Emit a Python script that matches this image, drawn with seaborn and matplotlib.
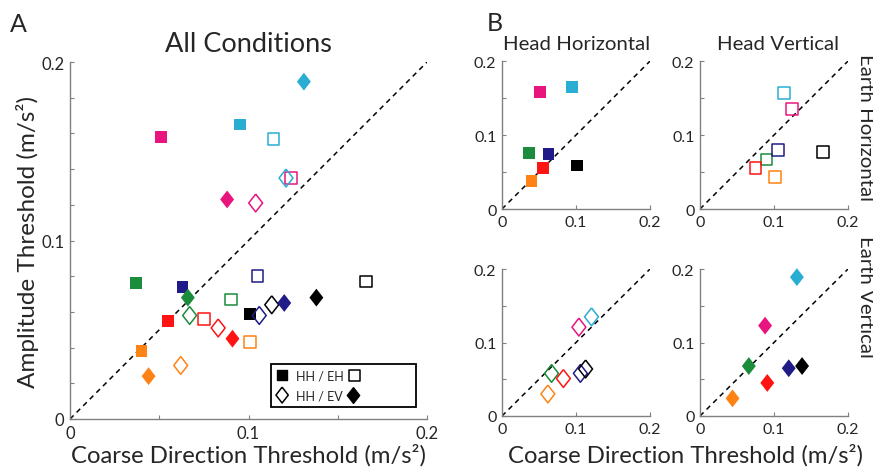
import numpy as np
import pandas as pd
import matplotlib
matplotlib.use("Agg")
import matplotlib.pyplot as plt
import seaborn as sns

# subjects and their colours
subjects = ["S1", "S2", "S3", "S4", "S5", "S6", "S7"]
subject_colors = ["#E8157F", "#29ADD3", "#1A8C3C", "#201B86", "#FF1414", "#FF8214", "#000000"]

# head horizontal / earth horizontal (filled squares)
hh_eh_x = [0.051, 0.095, 0.037, 0.063, 0.055, 0.040, 0.101]
hh_eh_y = [0.158, 0.165, 0.076, 0.074, 0.055, 0.038, 0.059]
# head vertical / earth horizontal (open squares)
hv_eh_x = [0.124, 0.114, 0.090, 0.105, 0.075, 0.101, 0.166]
hv_eh_y = [0.135, 0.157, 0.067, 0.080, 0.056, 0.043, 0.077]
# head horizontal / earth vertical (open diamonds)
hh_ev_x = [0.104, 0.121, 0.067, 0.106, 0.083, 0.062, 0.113]
hh_ev_y = [0.121, 0.135, 0.058, 0.058, 0.051, 0.030, 0.064]
# head vertical / earth vertical (filled diamonds)
hv_ev_x = [0.088, 0.131, 0.066, 0.120, 0.091, 0.044, 0.138]
hv_ev_y = [0.123, 0.189, 0.068, 0.065, 0.045, 0.024, 0.068]

tick_labels = ["0", "0.1", "0.2"]
lims = [0, 0.2]

frames = []
for cond, xs, ys in [("HH/EH", hh_eh_x, hh_eh_y), ("HV/EH", hv_eh_x, hv_eh_y),
                     ("HH/EV", hh_ev_x, hh_ev_y), ("HV/EV", hv_ev_x, hv_ev_y)]:
    frames.append(pd.DataFrame({"subject": subjects, "coarse": xs, "amp": ys, "cond": cond}))
data = pd.concat(frames, ignore_index=True)
pal = dict(zip(subjects, subject_colors))

sns.set_style("ticks")
plt.rcParams["font.family"] = ["Lato", "DejaVu Sans"]

diamond = [(0, 1), (0.78, 0), (0, -1), (-0.78, 0), (0, 1)]
style = {"HH/EH": ("s", True), "HV/EH": ("s", False),
         "HH/EV": (diamond, False), "HV/EV": (diamond, True)}
sizes = {"s": 72, "d": 165}
GRAY = "#808080"


def draw(ax, cond):
    marker, filled = style[cond]
    size = sizes["s"] if isinstance(marker, str) else sizes["d"]
    sub = data[data.cond == cond]
    sns.scatterplot(data=sub, x="coarse", y="amp", hue="subject", palette=pal,
                    marker=marker, s=size, linewidth=0 if filled else 1.1,
                    edgecolor="none", legend=False, ax=ax, clip_on=False, zorder=3)
    pts = ax.collections[-1]
    if not filled:
        pts.set_edgecolors(pts.get_facecolors())
        pts.set_facecolors("none")


def label_for(t):
    # only 0, 0.1, 0.2 get a label
    k = t * 10
    return tick_labels[int(round(k))] if abs(k - round(k)) < 1e-6 else ""


def style_ax(ax, xticks, yticks, fs):
    ax.plot(lims, lims, color="k", ls=(0, (3.3, 2.8)), lw=1.1, zorder=1)
    ax.set_xlim(lims)
    ax.set_ylim(lims)
    ax.set_xticks(xticks)
    ax.set_yticks(yticks)
    ax.set_xticklabels([label_for(t) for t in xticks])
    ax.set_yticklabels([label_for(t) for t in yticks])
    ax.tick_params(direction="in", length=3, width=0.8, color=GRAY, labelsize=fs, pad=4)
    for s in ["top", "right"]:
        ax.spines[s].set_visible(False)
    for s in ["left", "bottom"]:
        ax.spines[s].set_color(GRAY)
        ax.spines[s].set_linewidth(1.0)
    ax.set_xlabel("")
    ax.set_ylabel("")


fig = plt.figure(figsize=(8.73, 4.77), dpi=100)

# panel A
axA = fig.add_axes([0.0802, 0.1195, 0.409, 0.7484])
for cond in ["HH/EH", "HV/EH", "HH/EV", "HV/EV"]:
    draw(axA, cond)
style_ax(axA, np.arange(0, 0.2001, 0.05), np.arange(0, 0.2001, 0.02), 12)

# legend box
leg = plt.Rectangle((0.563, 0.034), 0.406, 0.12, transform=axA.transAxes,
                    fill=False, ec="k", lw=1.3, zorder=4)
axA.add_patch(leg)
axA.scatter([0.593], [0.122], marker="s", s=60, c="k", transform=axA.transAxes, zorder=5)
axA.scatter([0.796], [0.122], marker="s", s=60, facecolors="none", edgecolors="k", lw=1.1, transform=axA.transAxes, zorder=5)
axA.scatter([0.594], [0.067], marker=diamond, s=130, facecolors="none", edgecolors="k", lw=1.1, transform=axA.transAxes, zorder=5)
axA.scatter([0.792], [0.067], marker=diamond, s=130, c="k", transform=axA.transAxes, zorder=5)
axA.text(0.632, 0.122, "HH / EH", transform=axA.transAxes, fontsize=9, va="center", zorder=5)
axA.text(0.632, 0.067, "HH / EV", transform=axA.transAxes, fontsize=9, va="center", zorder=5)

# panel B
b_pos = {"HH/EH": [0.575, 0.5597, 0.1695, 0.310],
         "HV/EH": [0.8018, 0.5597, 0.1695, 0.310],
         "HH/EV": [0.575, 0.1258, 0.1695, 0.308],
         "HV/EV": [0.8018, 0.1258, 0.1695, 0.308]}
for cond, pos in b_pos.items():
    ax = fig.add_axes(pos)
    draw(ax, cond)
    style_ax(ax, [0, 0.1, 0.2], np.arange(0, 0.2001, 0.05), 11.5)

# text
fig.text(0.0115, 0.933, "A", fontsize=18, va="baseline")
fig.text(0.557, 0.935, "B", fontsize=18, va="baseline")
fig.text(0.285, 0.891, "All Conditions", fontsize=19.5, ha="center", va="baseline")
fig.text(0.66, 0.895, "Head Horizontal", fontsize=14.7, ha="center", va="baseline")
fig.text(0.891, 0.895, "Head Vertical", fontsize=14.7, ha="center", va="baseline")
fig.text(0.285, 0.031, "Coarse Direction Threshold (m/s²)", fontsize=17.2, ha="center", va="baseline")
fig.text(0.785, 0.031, "Coarse Direction Threshold (m/s²)", fontsize=17.2, ha="center", va="baseline")
fig.text(0.032, 0.493, "Amplitude Threshold (m/s²)", fontsize=17.5, rotation=90, ha="center", va="center")
fig.text(0.991, 0.732, "Earth Horizontal", fontsize=14.7, rotation=-90, ha="center", va="center")
fig.text(0.991, 0.377, "Earth Vertical", fontsize=14.7, rotation=-90, ha="center", va="center")

fig.savefig("out.png", dpi=100)
